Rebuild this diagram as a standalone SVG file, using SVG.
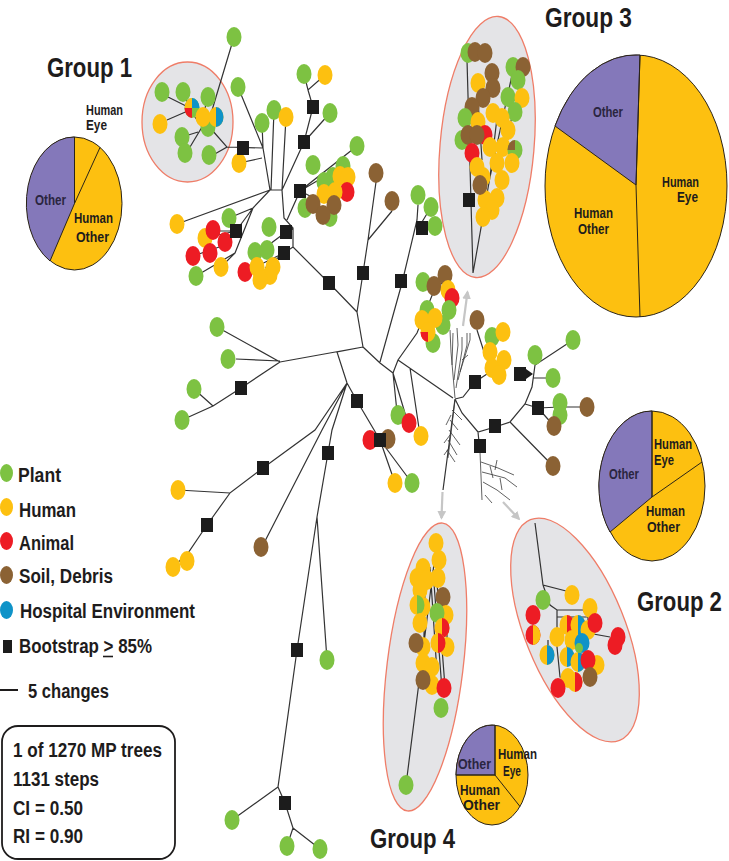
<svg xmlns="http://www.w3.org/2000/svg" xmlns:xlink="http://www.w3.org/1999/xlink" width="729" height="861" viewBox="0 0 729 861">
<style>
.ln{fill:none;stroke:#333;stroke-width:1.2}
.sk{fill:none;stroke:#3a3a3a;stroke-width:0.8}
.g{fill:#7dc242}.y{fill:#fdc010}.r{fill:#ed1c24}.b{fill:#8b6234}.h{fill:#0f93c8}.p{fill:#8478ba}
.sq{fill:#1c1c1c}
.grp{fill:#e4e4e7;stroke:#ef7d68;stroke-width:1.3}
.arr{stroke:#c6c6c6;stroke-width:2.2;fill:none;marker-end:url(#ah)}
.pie{stroke:#2b2418;stroke-width:1}
.pl{fill:none;stroke:#2b2418;stroke-width:1}
text{font-family:"Liberation Sans Narrow","Liberation Sans",Arial,sans-serif;font-weight:bold;fill:#1e1c1c}
text.ls{font-family:"Liberation Sans",Arial,sans-serif}
.t28{font-size:28px}.t20{font-size:20px}.t14{font-size:14px}
.pt{fill:#2a2540}
</style>
<defs>
<ellipse id="n" rx="7.5" ry="10"/>
<path id="hr" d="M0,-10A7.5,10 0 0 1 0,10Z"/>
<path id="qtl" d="M0,0V-10A7.5,10 0 0 0 -7.5,0Z"/>
<path id="qtr" d="M0,0V-10A7.5,10 0 0 1 7.5,0Z"/>
<path id="qbl" d="M0,0V10A7.5,10 0 0 1 -7.5,0Z"/>
<rect id="s" x="-6" y="-7" width="12" height="14"/>
<marker id="ah" viewBox="0 0 10 10" refX="8" refY="5" markerWidth="4" markerHeight="4" orient="auto"><path d="M0,0L10,5L0,10z" fill="#c6c6c6"/></marker>
</defs>

<g id="group-ellipses">
<ellipse class="grp" cx="187.5" cy="122" rx="45.5" ry="60"/>
<ellipse class="grp" cx="487" cy="147" rx="47" ry="131" transform="rotate(5 487 147)"/>
<ellipse class="grp" cx="575" cy="630" rx="50" ry="119" transform="rotate(-22 575 630)"/>
<ellipse class="grp" cx="425" cy="667" rx="38" ry="145" transform="rotate(7 425 667)"/>
</g>

<g id="connectors">
<path class="ln" d="M234,37L210,117M168,97L190,108M167,120L190,110M183,92L190,108M190,110L202,127L190,147M182,137L198,132M208,97L204,112M212,130L227,147L213,155M227,147L263,148
M238,87L263,148M262,123L263,148M263,148L270,190M239,163L262,158
M274,110L271,190M286,117L282,190M270,190L282,190
M282,190L304,142L313,107L308,90M304,74L308,90L325,75M330,113L304,142
M357,146L300,191L287,220M282,190L284,218L293,228L293,247L329,283L357,312
M293,228L286,232L262,250M293,247L284,253L265,268M284,253L245,272
M177,224L270,190M270,190L253,208L229,218M253,208L236,231L213,231M236,231L225,242M236,231L205,238M253,208L235,253L196,276M235,253L221,267M193,256L225,245
M300,191L322,178L340,172M300,191L318,200
M376,182L368,240L363,273L357,312M392,211L368,240
M418,205L417,220L402,283L380,362M431,207L422,222M435,226L422,228
M357,312L363,347
M363,347L280,362M217,327L280,362M236,359L280,361M280,362L241,388L213,406L182,420M213,406L194,389
M363,347L380,363L393,373L398,360L417,333L433,293L447,277M398,360L453,398
M393,373L397,412M393,373L407,420M410,368L420,435
M363,347L337,352L347,383L357,401L380,440M380,440L370,440M380,440L395,483M380,440L412,483
M347,383L315,430L263,468L230,493L178,490M230,493L207,525L188,553L173,567M188,553L187,561
M347,383L322,430L263,545
M347,383L332,430L328,453L317,517L297,650L278,787M317,517L327,660
M278,787L232,820M278,787L285,803L293,828L287,846M293,828L320,849
M455,399L463,397L475,382L490,372M477,330L485,355M492,337L503,332
M455,399L462,413L478,432L495,427L510,422L525,404L532,387L535,365L573,340M533,378L553,378
M525,404L538,408L560,407L587,407M538,408L554,426M510,422L553,466
M478,432L480,452M455,399L443,490
M473,273L467,60M473,273L490,177L512,75M490,177L497,118M482,160L478,100M500,150L515,110
M535,523L543,585L570,592M543,585L550,605L557,610L590,610M557,610L557,647L560,677L570,678M557,617L588,617L588,633L610,637M548,640L548,655M567,640L567,660
M406,785L436,548M430,567L437,673M433,570L442,690M437,583L445,687M447,613L447,647M425,590L423,680"/>
<path class="sk" d="M455,398L451,352L450,330M452,365L453,333M454,380L458,345L457,328M456,388L462,350L462,337M458,380L467,345L467,333M460,372L470,340L470,333M462,360L468,355
M455,400L448,458M450,420L458,430M449,430L460,445M448,440L457,455M452,410L462,420M447,450L455,462M451,415L446,425M450,435L444,443M449,448L444,455
M480,452L482,500M481,462L498,468L514,475M482,472L505,478L517,487M483,482L497,490L510,500M490,466L493,478M500,478L502,490M485,495L492,503M495,470L497,460"/>
<path class="arr" d="M463,326L467.5,292"/>
<path class="arr" d="M442.5,492L441.5,518"/>
<path class="arr" d="M503,502L519,519"/>
</g>

<g id="group1-nodes">
<use href="#n" x="162" y="92" class="g"/><use href="#n" x="183" y="92" class="g"/><use href="#n" x="208" y="97" class="g"/>
<use href="#n" x="160" y="124" class="y"/>
<use href="#n" x="192" y="108" class="g"/><use href="#qtl" x="192" y="108" class="y"/><use href="#qtr" x="192" y="108" class="h"/><use href="#qbl" x="192" y="108" class="r"/>
<use href="#n" x="208" y="127" class="g"/>
<use href="#n" x="203" y="117" class="y"/>
<use href="#n" x="216" y="117" class="y"/><use href="#hr" x="216" y="117" class="h"/>
<use href="#n" x="182" y="137" class="g"/><use href="#n" x="185" y="153" class="g"/><use href="#n" x="209" y="155" class="g"/>
</g>

<g id="tree-nodes">
<use href="#n" x="234" y="37" class="g"/><use href="#n" x="238" y="87" class="g"/><use href="#n" x="274" y="110" class="g"/><use href="#n" x="286" y="117" class="y"/><use href="#n" x="262" y="123" class="g"/><use href="#n" x="239" y="163" class="y"/>
<use href="#n" x="304" y="74" class="g"/><use href="#n" x="325" y="75" class="y"/><use href="#n" x="330" y="113" class="g"/><use href="#n" x="357" y="146" class="g"/><use href="#n" x="177" y="224" class="y"/>
<use href="#n" x="229" y="218" class="g"/><use href="#n" x="205" y="238" class="y"/><use href="#n" x="213" y="230" class="r"/><use href="#n" x="225" y="242" class="r"/><use href="#n" x="210" y="253" class="r"/><use href="#n" x="193" y="256" class="r"/><use href="#n" x="196" y="276" class="g"/><use href="#n" x="221" y="267" class="y"/>
<use href="#n" x="269" y="227" class="g"/><use href="#n" x="255" y="252" class="g"/><use href="#n" x="267" y="250" class="g"/><use href="#n" x="245" y="272" class="r"/><use href="#n" x="257" y="267" class="y"/><use href="#n" x="273" y="267" class="y"/><use href="#n" x="270" y="275" class="y"/><use href="#n" x="260" y="280" class="y"/>
<use href="#n" x="313" y="165" class="g"/><use href="#n" x="343" y="166" class="g"/><use href="#n" x="333" y="177" class="g"/><use href="#n" x="324" y="182" class="g"/><use href="#n" x="340" y="176" class="y"/><use href="#n" x="348" y="177" class="y"/><use href="#n" x="347" y="192" class="r"/>
<use href="#n" x="305" y="208" class="g"/><use href="#n" x="330" y="217" class="g"/><use href="#n" x="324" y="194" class="y"/><use href="#n" x="335" y="192" class="y"/><use href="#n" x="313" y="204" class="b"/><use href="#n" x="334" y="205" class="b"/><use href="#n" x="323" y="215" class="b"/>
<use href="#n" x="376" y="173" class="b"/><use href="#n" x="392" y="201" class="b"/><use href="#n" x="418" y="195" class="g"/><use href="#n" x="431" y="207" class="g"/><use href="#n" x="435" y="226" class="g"/>
<use href="#n" x="423" y="282" class="g"/><use href="#n" x="445" y="275" class="b"/><use href="#n" x="434" y="286" class="b"/><use href="#n" x="448" y="290" class="y"/><use href="#n" x="452" y="298" class="r"/><use href="#n" x="449" y="310" class="g"/><use href="#n" x="427" y="310" class="g"/>
<use href="#n" x="443" y="325" class="g"/><use href="#n" x="422" y="320" class="y"/><use href="#n" x="435" y="318" class="y"/><use href="#n" x="433" y="343" class="g"/><use href="#n" x="428" y="332" class="y"/><use href="#qbl" x="428" y="332" class="r"/>
<use href="#n" x="398" y="415" class="g"/><use href="#n" x="409" y="423" class="r"/><use href="#n" x="421" y="436" class="y"/><use href="#n" x="370" y="440" class="r"/><use href="#n" x="388" y="439" class="b"/><use href="#n" x="395" y="483" class="y"/><use href="#n" x="412" y="483" class="g"/>
<use href="#n" x="217" y="327" class="g"/><use href="#n" x="228" y="359" class="g"/><use href="#n" x="194" y="389" class="g"/><use href="#n" x="182" y="420" class="g"/>
<use href="#n" x="178" y="490" class="y"/><use href="#n" x="187" y="561" class="y"/><use href="#n" x="173" y="567" class="y"/><use href="#n" x="261" y="547" class="b"/><use href="#n" x="327" y="660" class="g"/>
<use href="#n" x="232" y="820" class="g"/><use href="#n" x="287" y="846" class="g"/><use href="#n" x="320" y="849" class="g"/>
<use href="#n" x="477" y="320" class="b"/><use href="#n" x="492" y="337" class="g"/><use href="#n" x="503" y="332" class="y"/><use href="#n" x="490" y="352" class="y"/><use href="#n" x="504" y="360" class="y"/><use href="#n" x="492" y="368" class="y"/><use href="#n" x="499" y="375" class="y"/>
<use href="#n" x="535" y="355" class="g"/><use href="#n" x="573" y="340" class="g"/><use href="#n" x="553" y="378" class="g"/><use href="#n" x="560" y="403" class="g"/><use href="#n" x="560" y="415" class="g"/><use href="#n" x="587" y="407" class="b"/><use href="#n" x="554" y="426" class="b"/><use href="#n" x="553" y="466" class="b"/>
</g>

<g id="group3-nodes">
<use href="#n" x="468" y="53" class="g"/><use href="#n" x="475" y="52" class="b"/><use href="#n" x="485" y="53" class="b"/><use href="#n" x="513" y="67" class="g"/><use href="#n" x="523" y="67" class="b"/><use href="#n" x="492" y="73" class="b"/>
<use href="#n" x="518" y="80" class="g"/><use href="#n" x="478" y="83" class="y"/><use href="#n" x="493" y="88" class="b"/><use href="#n" x="483" y="98" class="b"/><use href="#n" x="508" y="97" class="g"/><use href="#n" x="522" y="98" class="y"/>
<use href="#n" x="472" y="107" class="b"/><use href="#n" x="515" y="112" class="g"/><use href="#n" x="493" y="113" class="y"/><use href="#n" x="465" y="118" class="g"/><use href="#n" x="478" y="122" class="y"/><use href="#n" x="502" y="118" class="y"/>
<use href="#n" x="462" y="140" class="g"/><use href="#n" x="468" y="135" class="b"/><use href="#n" x="485" y="135" class="r"/><use href="#n" x="477" y="135" class="b"/><use href="#n" x="508" y="130" class="y"/>
<use href="#n" x="472" y="153" class="r"/><use href="#n" x="490" y="147" class="y"/><use href="#n" x="503" y="147" class="y"/><use href="#n" x="515" y="150" class="g"/><use href="#qtl" x="515" y="150" class="b"/>
<use href="#n" x="477" y="167" class="y"/><use href="#n" x="497" y="163" class="y"/><use href="#n" x="512" y="163" class="y"/><use href="#n" x="483" y="177" class="y"/><use href="#n" x="502" y="180" class="y"/>
<use href="#n" x="485" y="200" class="y"/><use href="#n" x="497" y="198" class="y"/><use href="#n" x="492" y="210" class="y"/><use href="#n" x="483" y="217" class="y"/><use href="#n" x="480" y="185" class="b"/>
</g>

<g id="group2-nodes">
<use href="#n" x="572" y="595" class="y"/><use href="#n" x="543" y="600" class="g"/><use href="#n" x="533" y="615" class="r"/>
<use href="#n" x="533" y="635" class="r"/><use href="#hr" x="533" y="635" class="y"/>
<use href="#n" x="590" y="608" class="y"/>
<use href="#n" x="567" y="625" class="y"/><use href="#hr" x="567" y="625" class="r"/>
<use href="#n" x="578" y="625" class="y"/><use href="#hr" x="578" y="625" class="h"/>
<use href="#n" x="588" y="630" class="y"/><use href="#n" x="595" y="623" class="r"/>
<use href="#n" x="557" y="637" class="y"/><use href="#n" x="572" y="640" class="y"/><use href="#n" x="582" y="643" class="h"/>
<use href="#n" x="618" y="637" class="r"/><use href="#n" x="615" y="645" class="r"/>
<use href="#n" x="547" y="655" class="y"/><use href="#hr" x="547" y="655" class="h"/>
<use href="#n" x="567" y="657" class="y"/><use href="#hr" x="567" y="657" class="h"/>
<use href="#n" x="578" y="662" class="y"/><use href="#hr" x="578" y="662" class="h"/>
<ellipse cx="579" cy="648" rx="4" ry="5" class="g"/>
<use href="#n" x="597" y="665" class="y"/><use href="#n" x="588" y="660" class="r"/><use href="#n" x="590" y="677" class="b"/>
<use href="#n" x="568" y="678" class="y"/><use href="#n" x="575" y="682" class="y"/><use href="#hr" x="575" y="682" class="r"/><use href="#n" x="558" y="688" class="r"/>
</g>

<g id="group4-nodes">
<use href="#n" x="436" y="543" class="y"/><use href="#n" x="439" y="560" class="y"/><use href="#n" x="423" y="568" class="y"/><use href="#n" x="417" y="578" class="y"/><use href="#n" x="427" y="580" class="y"/><use href="#n" x="438" y="578" class="y"/><use href="#n" x="420" y="590" class="y"/>
<use href="#n" x="443" y="597" class="b"/>
<use href="#n" x="423" y="607" class="y"/><use href="#n" x="417" y="605" class="y"/><use href="#hr" x="417" y="605" class="g"/>
<use href="#n" x="446" y="615" class="y"/><use href="#n" x="437" y="613" class="g"/><use href="#n" x="420" y="623" class="y"/>
<use href="#n" x="442" y="628" class="y"/><use href="#hr" x="442" y="628" class="r"/>
<use href="#n" x="423" y="647" class="y"/><use href="#n" x="416" y="643" class="b"/><use href="#n" x="447" y="647" class="y"/>
<use href="#n" x="438" y="643" class="y"/><use href="#hr" x="438" y="643" class="r"/>
<use href="#n" x="423" y="663" class="y"/><use href="#n" x="432" y="667" class="y"/><use href="#n" x="432" y="685" class="y"/><use href="#n" x="423" y="680" class="b"/><use href="#n" x="444" y="688" class="r"/>
<use href="#n" x="441" y="708" class="g"/><use href="#n" x="406" y="785" class="g"/>
</g>

<g id="bootstrap-squares" class="sq">
<use href="#s" x="243" y="148"/><use href="#s" x="313" y="107"/><use href="#s" x="304" y="142"/><use href="#s" x="300" y="191"/><use href="#s" x="236" y="231"/><use href="#s" x="286" y="232"/><use href="#s" x="284" y="253"/>
<use href="#s" x="329" y="283"/><use href="#s" x="363" y="273"/><use href="#s" x="401" y="281"/><use href="#s" x="422" y="228"/><use href="#s" x="241" y="388"/><use href="#s" x="357" y="401"/><use href="#s" x="380" y="440"/>
<use href="#s" x="263" y="468"/><use href="#s" x="328" y="453"/><use href="#s" x="207" y="525"/><use href="#s" x="297" y="650"/><use href="#s" x="285" y="803"/>
<use href="#s" x="475" y="382"/><use href="#s" x="520" y="374"/><use href="#s" x="538" y="408"/><use href="#s" x="495" y="426"/><use href="#s" x="480" y="446"/><use href="#s" x="469" y="200"/>
<polygon points="526,369 533,374 526,379"/>
</g>

<g id="pie-group1">
<ellipse class="y pie" cx="74.5" cy="203.5" rx="47.5" ry="66.5"/>
<path class="p pie" d="M74.5,203.5L74.5,137A47.5,66.5 0 0 0 50,261Z"/>
<path class="pl" d="M74.5,203.5L100,147.5"/>
<text class="t14 pt" x="35" y="205" textLength="31" lengthAdjust="spacingAndGlyphs">Other</text>
<text class="t14" x="74" y="223" textLength="39" lengthAdjust="spacingAndGlyphs">Human</text>
<text class="t14" x="76" y="242" textLength="33" lengthAdjust="spacingAndGlyphs">Other</text>
<text class="t14" x="86" y="115" textLength="37" lengthAdjust="spacingAndGlyphs">Human</text>
<text class="t14" x="86" y="130" textLength="21" lengthAdjust="spacingAndGlyphs">Eye</text>
</g>

<g id="pie-group3">
<ellipse class="y pie" cx="636" cy="186" rx="91" ry="131"/>
<path class="p pie" d="M636,185L640,55A91,131 0 0 0 555,126Z"/>
<path class="pl" d="M640,55L636,185L640,317"/>
<text class="t14 pt" x="593" y="117" textLength="30" lengthAdjust="spacingAndGlyphs">Other</text>
<text class="t14" x="662" y="187" textLength="37" lengthAdjust="spacingAndGlyphs">Human</text>
<text class="t14" x="677" y="202" textLength="21" lengthAdjust="spacingAndGlyphs">Eye</text>
<text class="t14" x="574" y="218" textLength="39" lengthAdjust="spacingAndGlyphs">Human</text>
<text class="t14" x="578" y="234" textLength="31" lengthAdjust="spacingAndGlyphs">Other</text>
</g>

<g id="pie-group2">
<ellipse class="y pie" cx="652" cy="486" rx="53" ry="75"/>
<path class="p pie" d="M652,497L652,411A53,75 0 0 0 610,532Z"/>
<path class="pl" d="M652,411L652,497L702,462"/>
<text class="t14 pt" x="609" y="479" textLength="30" lengthAdjust="spacingAndGlyphs">Other</text>
<text class="t14" x="654" y="449" textLength="38" lengthAdjust="spacingAndGlyphs">Human</text>
<text class="t14" x="654" y="465" textLength="20" lengthAdjust="spacingAndGlyphs">Eye</text>
<text class="t14" x="646" y="516" textLength="39" lengthAdjust="spacingAndGlyphs">Human</text>
<text class="t14" x="647" y="532" textLength="33" lengthAdjust="spacingAndGlyphs">Other</text>
</g>

<g id="pie-group4">
<ellipse class="y pie" cx="492" cy="775" rx="36" ry="50"/>
<path class="p pie" d="M495,775L495,725.2A36,50 0 0 0 456,775Z"/>
<path class="pl" d="M495,725.2L495,775L456,775M495,775L520,806.5"/>
<text class="t14 pt" x="458" y="769" textLength="33" lengthAdjust="spacingAndGlyphs">Other</text>
<text class="t14" x="498" y="759" textLength="39" lengthAdjust="spacingAndGlyphs">Human</text>
<text class="t14" x="503" y="776" textLength="18" lengthAdjust="spacingAndGlyphs">Eye</text>
<text class="t14" x="460" y="795" textLength="40" lengthAdjust="spacingAndGlyphs">Human</text>
<text class="t14" x="463" y="810" textLength="37" lengthAdjust="spacingAndGlyphs">Other</text>
</g>

<g id="group-labels">
<text class="t28" x="47" y="77" textLength="85" lengthAdjust="spacingAndGlyphs">Group 1</text>
<text class="t28" x="545" y="27" textLength="87" lengthAdjust="spacingAndGlyphs">Group 3</text>
<text class="t28 ls" transform="translate(637,611) scale(0.79,1)" x="0" y="0" textLength="107.5" lengthAdjust="spacingAndGlyphs">Group 2</text>
<text class="t28" x="370" y="848" textLength="85" lengthAdjust="spacingAndGlyphs">Group 4</text>
</g>

<g id="legend">
<ellipse cx="6.5" cy="473" rx="6.5" ry="9" class="g"/>
<text class="t20" x="18" y="482" textLength="43" lengthAdjust="spacingAndGlyphs">Plant</text>
<ellipse cx="6.5" cy="507" rx="6.5" ry="9" class="y"/>
<text class="t20" x="19" y="517" textLength="57" lengthAdjust="spacingAndGlyphs">Human</text>
<ellipse cx="6.5" cy="541" rx="6.5" ry="9" class="r"/>
<text class="t20" x="19" y="550" textLength="55" lengthAdjust="spacingAndGlyphs">Animal</text>
<ellipse cx="6.5" cy="575" rx="6.5" ry="9" class="b"/>
<text class="t20" x="19" y="583" textLength="94" lengthAdjust="spacingAndGlyphs">Soil, Debris</text>
<ellipse cx="6.5" cy="610" rx="6.5" ry="9" class="h"/>
<text class="t20" x="20" y="618" textLength="175" lengthAdjust="spacingAndGlyphs">Hospital Environment</text>
<rect x="3" y="640" width="9" height="13" class="sq"/>
<text class="t20 ls" transform="translate(19,653) scale(0.853,1)" x="0" y="0" textLength="156" lengthAdjust="spacingAndGlyphs">Bootstrap &gt; 85%</text>
<line x1="103" y1="656.5" x2="113" y2="656.5" stroke="#1e1c1c" stroke-width="1.6"/>
<line x1="0" y1="690" x2="18" y2="690" stroke="#1e1c1c" stroke-width="2"/>
<text class="t20" x="28" y="698" textLength="81" lengthAdjust="spacingAndGlyphs">5 changes</text>
<rect x="2" y="726" width="173" height="133" rx="16" fill="none" stroke="#1e1c1c" stroke-width="1.8"/>
<text class="t20" x="13" y="757" textLength="149" lengthAdjust="spacingAndGlyphs">1 of 1270 MP trees</text>
<text class="t20" x="13" y="786" textLength="86" lengthAdjust="spacingAndGlyphs">1131 steps</text>
<text class="t20" x="13" y="815" textLength="70" lengthAdjust="spacingAndGlyphs">CI = 0.50</text>
<text class="t20" x="13" y="843" textLength="70" lengthAdjust="spacingAndGlyphs">RI = 0.90</text>
</g>
</svg>
